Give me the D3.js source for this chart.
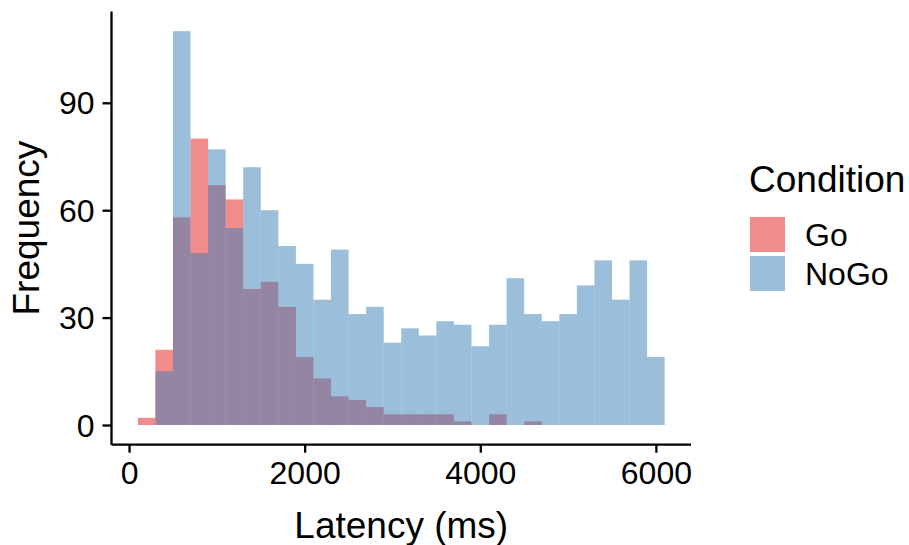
<!DOCTYPE html>
<html>
<head>
<meta charset="utf-8">
<script src="https://cdn.jsdelivr.net/npm/d3@7"></script>
<style>
  html, body { margin: 0; padding: 0; background: #ffffff; }
  svg { display: block; font-family: "Liberation Sans", Arial, Helvetica, sans-serif; }
</style>
</head>
<body>
<svg id="chart" width="909" height="545"></svg>
<script>
// Histogram bins: centre of each 200 ms bin
const binCenters = [200, 400, 600, 800, 1000, 1200, 1400, 1600, 1800, 2000,
                    2200, 2400, 2600, 2800, 3000, 3200, 3400, 3600, 3800, 4000,
                    4200, 4400, 4600, 4800, 5000, 5200, 5400, 5600, 5800, 6000];
const binWidth = 200;

// Counts per bin for each condition
const goCounts   = [2, 21, 58, 80, 67, 63, 38, 40, 33, 19,
                    13, 8, 7, 5, 3, 3, 3, 3, 1, 0,
                    3, 0, 1, 0, 0, 0, 0, 0, 0, 0];
const noGoCounts = [0, 15, 110, 48, 77, 55, 72, 60, 50, 45,
                    35, 49, 31, 33, 23, 27, 25, 29, 28, 22,
                    28, 41, 31, 29, 31, 39, 46, 35, 46, 19];

const conditions = ["Go", "NoGo"];
const conditionColors = ["#E41A1C", "#377EB8"];
const xTicks = [0, 2000, 4000, 6000];
const yTicks = [0, 30, 60, 90];

const svg = d3.select("#chart");

// Panel area (with 5% padding around the data range)
const x = d3.scaleLinear().domain([-200, 6400]).range([111.5, 691]);
const y = d3.scaleLinear().domain([-5.5, 115.5]).range([444.7, 11.5]);

const color = d3.scaleOrdinal().domain(conditions).range(conditionColors);

const series = [
  { name: "Go", counts: goCounts },
  { name: "NoGo", counts: noGoCounts }
];

// Overlapping semi-transparent bars, Go first then NoGo on top
series.forEach(s => {
  svg.append("g")
    .selectAll("rect")
    .data(binCenters.map((c, i) => ({ c, n: s.counts[i] })))
    .join("rect")
    .attr("x", d => x(d.c - binWidth / 2))
    .attr("width", d => x(d.c + binWidth / 2) - x(d.c - binWidth / 2))
    .attr("y", d => y(d.n))
    .attr("height", d => y(0) - y(d.n))
    .attr("fill", color(s.name))
    .attr("fill-opacity", 0.5);
});

// Axes
const xAxis = d3.axisBottom(x).tickValues(xTicks).tickSize(8).tickPadding(8).tickFormat(d3.format("d"));
const yAxis = d3.axisLeft(y).tickValues(yTicks).tickSize(9).tickPadding(8).tickFormat(d3.format("d"));

const gx = svg.append("g").attr("transform", `translate(0,${y.range()[0]})`).call(xAxis);
const gy = svg.append("g").attr("transform", `translate(${x.range()[0]},0)`).call(yAxis);

[gx, gy].forEach(g => {
  g.select(".domain").attr("stroke", "#000").attr("stroke-width", 2.3);
  g.selectAll(".tick line").attr("stroke", "#000").attr("stroke-width", 2.3);
  g.selectAll(".tick text")
    .attr("fill", "#000")
    .style("font-size", "32px")
    .style("font-family", "'Liberation Sans', Arial, sans-serif");
});
gx.select(".domain").attr("d", `M${x.range()[0]},0H${x.range()[1]}`);
gy.select(".domain").attr("d", `M0,${y.range()[0]}V${y.range()[1]}`);
gx.selectAll(".tick text").attr("dy", "0.72em");
gy.selectAll(".tick text").attr("dy", "0.35em");

// Axis titles
svg.append("text")
  .attr("x", (x.range()[0] + x.range()[1]) / 2)
  .attr("y", 538)
  .attr("text-anchor", "middle")
  .style("font-size", "37px")
  .text("Latency (ms)");

svg.append("text")
  .attr("transform", `translate(39,${(y.range()[0] + y.range()[1]) / 2}) rotate(-90)`)
  .attr("text-anchor", "middle")
  .style("font-size", "37px")
  .text("Frequency");

// Legend
const legend = svg.append("g").attr("transform", "translate(749,0)");
legend.append("text")
  .attr("x", 0)
  .attr("y", 192)
  .style("font-size", "37px")
  .text("Condition");

const items = legend.selectAll("g.item")
  .data(conditions)
  .join("g")
  .attr("class", "item")
  .attr("transform", (d, i) => `translate(1,${217 + i * 39})`);

items.append("rect")
  .attr("width", 35)
  .attr("height", 35)
  .attr("fill", d => color(d))
  .attr("fill-opacity", 0.5);

items.append("text")
  .attr("x", 55)
  .attr("y", 17.5)
  .attr("dy", "0.35em")
  .style("font-size", "32px")
  .text(d => d);
</script>
</body>
</html>
